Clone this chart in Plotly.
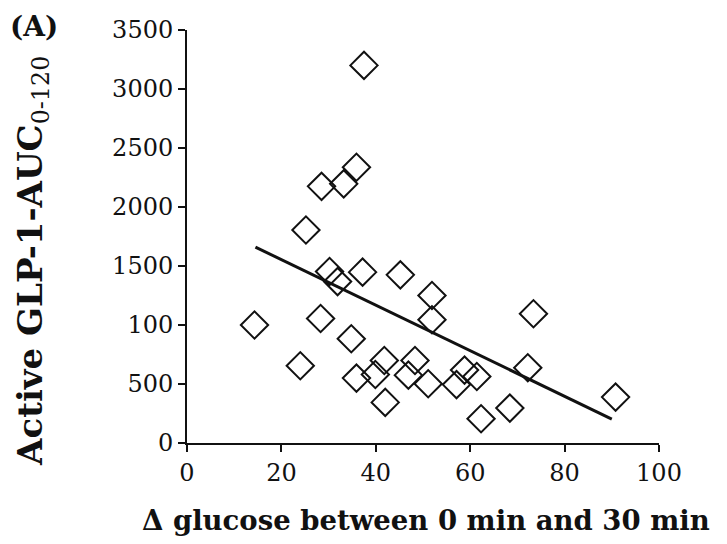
import plotly.graph_objects as go

# Data
delta_glucose = [14.3, 24.0, 25.2, 28.3, 28.5, 30.2, 31.9, 33.2, 34.8, 35.9,
                 35.9, 37.2, 37.5, 39.9, 41.8, 42.0, 45.2, 46.9, 48.3, 51.1,
                 51.9, 51.9, 57.1, 58.8, 61.4, 62.3, 68.4, 72.2, 73.4, 90.8]
glp1_auc = [1000, 655, 1805, 1055, 2175, 1453, 1368, 2196, 883, 2337,
            550, 1448, 3200, 580, 699, 344, 1425, 575, 699, 502,
            1250, 1044, 495, 618, 564, 206, 296, 638, 1095, 389]

trend_x = [14.5, 90.0]
trend_y = [1660, 203]

x_tickvals = [0, 20, 40, 60, 80, 100]
x_ticktext = ["0", "20", "40", "60", "80", "100"]
y_tickvals = [0, 500, 1000, 1500, 2000, 2500, 3000, 3500]
y_ticktext = ["0", "500", "100", "1500", "2000", "2500", "3000", "3500"]

FONT = "DejaVu Serif"

fig = go.Figure()
fig.add_trace(go.Scatter(
    x=delta_glucose, y=glp1_auc, mode="markers",
    marker=dict(symbol="diamond-open", size=21, color="#111111",
                line=dict(width=2, color="#111111")),
    showlegend=False, hoverinfo="x+y"))
fig.add_trace(go.Scatter(
    x=trend_x, y=trend_y, mode="lines",
    line=dict(color="#111111", width=3), showlegend=False))

# the page body adds an 8px margin, so the figure is sized to fit the window
fig.update_layout(
    width=719, height=536,
    margin=dict(l=179, r=68, t=22, b=101),
    paper_bgcolor="white", plot_bgcolor="white",
    font=dict(family=FONT, color="#111111", size=24),
    xaxis=dict(range=[0, 100], tickvals=x_tickvals, ticktext=x_ticktext,
               showgrid=False, zeroline=False, showline=True,
               linecolor="#111111", linewidth=2, ticks="outside",
               ticklen=7, tickwidth=2, tickcolor="#111111",
               tickfont=dict(family=FONT, size=24), automargin=False),
    yaxis=dict(range=[0, 3500], tickvals=y_tickvals, ticktext=y_ticktext,
               showgrid=False, zeroline=False, showline=True,
               linecolor="#111111", linewidth=2, ticks="outside",
               ticklen=7, tickwidth=2, tickcolor="#111111",
               tickfont=dict(family=FONT, size=24), automargin=False),
    annotations=[
        dict(text="<b>(A)</b>", xref="paper", yref="paper",
             x=-0.38, y=1.053, xanchor="left", yanchor="top",
             showarrow=False, font=dict(family=FONT, size=28)),
        dict(text="<b>Active GLP-1-AUC</b><sub>0-120</sub>", xref="paper", yref="paper",
             x=-0.379, y=0.44, xanchor="left", yanchor="middle",
             textangle=-90, showarrow=False, font=dict(family=FONT, size=34)),
        dict(text="<b>Δ glucose between 0 min and 30 min</b>", xref="paper", yref="paper",
             x=0.507, y=-0.186, xanchor="center", yanchor="middle",
             showarrow=False, font=dict(family=FONT, size=27.5)),
    ],
)

fig.write_html("out.html")
